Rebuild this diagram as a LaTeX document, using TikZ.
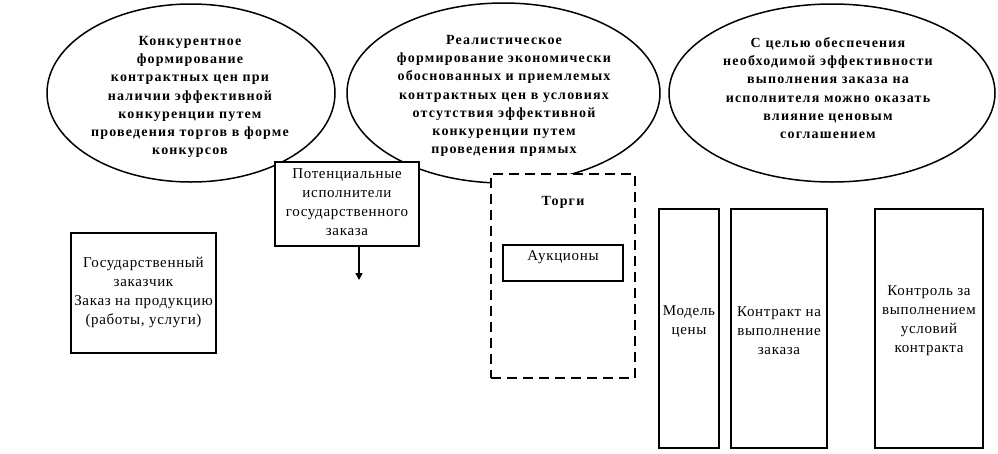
\documentclass[tikz,border=0pt]{standalone}
\usepackage{fontspec}
\setmainfont{Liberation Serif}
\newfontfamily\regf[LetterSpace=4.5]{Liberation Serif}
\newfontfamily\boldf[LetterSpace=8.5]{Liberation Serif}
\usetikzlibrary{shapes.geometric,arrows.meta}
\begin{document}
\begin{tikzpicture}[x=1pt,y=-1pt,
  ell/.style={draw, ellipse, line width=1.5pt, inner sep=0pt},
  boxn/.style={draw, line width=2pt, fill=white, inner sep=0pt},
  dbox/.style={boxn, dash pattern=on 10pt off 6pt},
  etext/.style={font=\boldf\bfseries\fontsize{14}{18.3}\selectfont, align=center, inner sep=0pt},
  rtext/.style={font=\regf\fontsize{15}{19}\selectfont, align=center, inner sep=0pt},
  arr/.style={line width=1.6pt, -{Triangle[length=7pt,width=7pt]}}]
\useasboundingbox (0,0) rectangle (998,453);
% ellipses
\node[ell, minimum width=288pt, minimum height=178pt] (e1) at (191,93) {};
\node[ell, minimum width=313pt, minimum height=180pt] (e2) at (503.5,93) {};
\node[ell, minimum width=326pt, minimum height=178pt] (e3) at (832,93) {};
\node[etext] (t1) at (190,97) {Конкурентное\\формирование\\контрактных цен при\\наличии эффективной\\конкуренции путем\\проведения торгов в форме\\конкурсов};
\node[etext] (t2) at (504,96) {Реалистическое\\формирование экономически\\обоснованных и приемлемых\\контрактных цен в условиях\\отсутствия эффективной\\конкуренции путем\\проведения прямых};
\node[etext] (t3) at (828,88) {С целью обеспечения\\необходимой эффективности\\выполнения заказа на\\исполнителя можно оказать\\влияние ценовым\\соглашением};
% boxes
\node[boxn, minimum width=144pt, minimum height=84pt] (pot) at (347,204) {};
\node[rtext] (potT) at (347,202) {Потенциальные\\исполнители\\государственного\\заказа};
\node[boxn, minimum width=145pt, minimum height=120pt] (gos) at (143.5,293) {};
\node[rtext] (gosT) at (143.5,292.5) {Государственный\\заказчик\\Заказ на продукцию\\(работы, услуги)};
\node[dbox, minimum width=144pt, minimum height=204pt] (torgi) at (563,276) {};
\node[etext] (torgiT) at (563,202) {Торги};
\node[boxn, minimum width=120pt, minimum height=36pt] (auk) at (563,263) {};
\node[rtext] (aukT) at (563,257) {Аукционы};
\node[boxn, minimum width=60pt, minimum height=239pt] (model) at (689,328.5) {};
\node[rtext] (modelT) at (689,322) {Модель\\цены};
\node[boxn, minimum width=96pt, minimum height=239pt] (kontr) at (779,328.5) {};
\node[rtext] (kontrT) at (779,331) {Контракт на\\выполнение\\заказа};
\node[boxn, minimum width=108pt, minimum height=239pt] (kntl) at (929,328.5) {};
\node[rtext] (kntlT) at (929,321) {Контроль за\\выполнением\\условий\\контракта};
% arrow
\coordinate (arrEnd) at (359,280);
\draw[arr] (arrEnd |- pot.south) -- (arrEnd);
\end{tikzpicture}
\end{document}
